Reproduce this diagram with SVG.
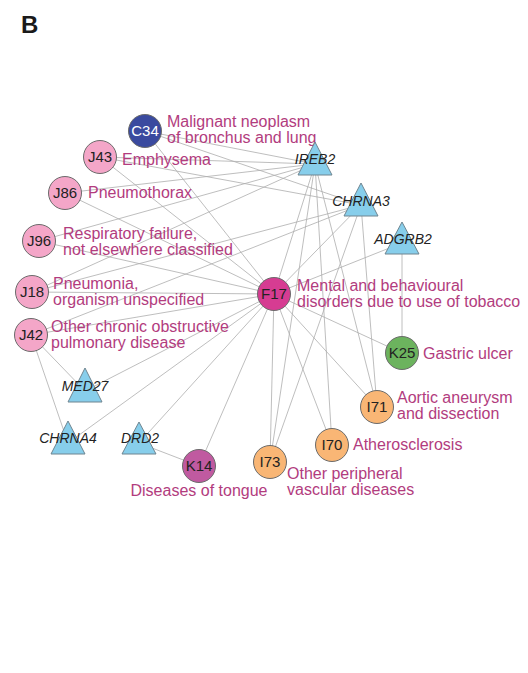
<svg xmlns="http://www.w3.org/2000/svg" width="528" height="673" viewBox="0 0 528 673">
  <style>
    .edge { stroke: #adadad; stroke-width: 0.8; fill: none; }
    .node { stroke: #6b6b6b; stroke-width: 1; }
    .gene { fill: #87ceeb; stroke: #6f8590; stroke-width: 1; }
    .code { font-family: "Liberation Sans", Arial, sans-serif; font-size: 15px; fill: #222; text-anchor: middle; }
    .gname { font-family: "Liberation Sans", Arial, sans-serif; font-size: 14px; font-style: italic; fill: #222; text-anchor: middle; }
    .lbl { font-family: "Liberation Sans", Arial, sans-serif; font-size: 16px; fill: #b23c7e; }
    .resp { fill: #f4a6c8; }
    .circ { fill: #f9b675; }
  </style>
  <rect width="528" height="673" fill="#ffffff"/>
  <text x="21" y="33" font-family="Liberation Sans, Arial, sans-serif" font-size="24" font-weight="bold" fill="#1a1a1a">B</text>

  <!-- connectors -->
  <g id="edges">
    <!-- F17 hub -->
    <line class="edge" x1="274" y1="294" x2="145" y2="131"/>
    <line class="edge" x1="274" y1="294" x2="100" y2="157"/>
    <line class="edge" x1="274" y1="294" x2="65" y2="193"/>
    <line class="edge" x1="274" y1="294" x2="39" y2="241"/>
    <line class="edge" x1="274" y1="294" x2="32" y2="292"/>
    <line class="edge" x1="274" y1="294" x2="31" y2="335"/>
    <line class="edge" x1="274" y1="294" x2="402" y2="353"/>
    <line class="edge" x1="274" y1="294" x2="377" y2="407"/>
    <line class="edge" x1="274" y1="294" x2="332" y2="445"/>
    <line class="edge" x1="274" y1="294" x2="270" y2="462"/>
    <line class="edge" x1="274" y1="294" x2="199" y2="466"/>
    <!-- IREB2 -->
    <line class="edge" x1="315" y1="164" x2="145" y2="131"/>
    <line class="edge" x1="315" y1="164" x2="100" y2="157"/>
    <line class="edge" x1="315" y1="164" x2="65" y2="193"/>
    <line class="edge" x1="315" y1="164" x2="39" y2="241"/>
    <line class="edge" x1="315" y1="164" x2="32" y2="292"/>
    <line class="edge" x1="315" y1="164" x2="274" y2="294"/>
    <line class="edge" x1="315" y1="164" x2="270" y2="462"/>
    <line class="edge" x1="315" y1="164" x2="332" y2="445"/>
    <line class="edge" x1="315" y1="164" x2="377" y2="407"/>
    <!-- CHRNA3 -->
    <line class="edge" x1="361" y1="205" x2="145" y2="131"/>
    <line class="edge" x1="361" y1="205" x2="100" y2="157"/>
    <line class="edge" x1="361" y1="205" x2="32" y2="292"/>
    <line class="edge" x1="361" y1="205" x2="31" y2="335"/>
    <line class="edge" x1="361" y1="205" x2="274" y2="294"/>
    <line class="edge" x1="361" y1="205" x2="270" y2="462"/>
    <line class="edge" x1="361" y1="205" x2="377" y2="407"/>
    <!-- ADGRB2 -->
    <line class="edge" x1="402" y1="243" x2="274" y2="294"/>
    <line class="edge" x1="402" y1="243" x2="402" y2="353"/>
    <!-- MED27 -->
    <line class="edge" x1="85" y1="391" x2="31" y2="335"/>
    <line class="edge" x1="85" y1="391" x2="274" y2="294"/>
    <!-- CHRNA4 -->
    <line class="edge" x1="68" y1="443" x2="31" y2="335"/>
    <line class="edge" x1="68" y1="443" x2="274" y2="294"/>
    <!-- DRD2 -->
    <line class="edge" x1="139" y1="443" x2="274" y2="294"/>
    <line class="edge" x1="139" y1="443" x2="199" y2="466"/>
  </g>

  <!-- disease nodes -->
  <g id="C34">
    <circle class="node" cx="145" cy="131" r="16.5" fill="#3a4a9f"/>
    <text class="code" x="145" y="136" style="fill:#ffffff">C34</text>
    <text class="lbl" x="167" y="127">Malignant neoplasm</text>
    <text class="lbl" x="167" y="143">of bronchus and lung</text>
  </g>
  <g id="J43">
    <circle class="node resp" cx="100" cy="157" r="16.5"/>
    <text class="code" x="100" y="162">J43</text>
    <text class="lbl" x="122" y="165">Emphysema</text>
  </g>
  <g id="J86">
    <circle class="node resp" cx="65" cy="193" r="16.5"/>
    <text class="code" x="65" y="198">J86</text>
    <text class="lbl" x="88" y="198">Pneumothorax</text>
  </g>
  <g id="J96">
    <circle class="node resp" cx="39" cy="241" r="16.5"/>
    <text class="code" x="39" y="246">J96</text>
    <text class="lbl" x="63" y="239">Respiratory failure,</text>
    <text class="lbl" x="63" y="255">not elsewhere classified</text>
  </g>
  <g id="J18">
    <circle class="node resp" cx="32" cy="292" r="16.5"/>
    <text class="code" x="32" y="297">J18</text>
    <text class="lbl" x="53" y="289">Pneumonia,</text>
    <text class="lbl" x="53" y="305">organism unspecified</text>
  </g>
  <g id="J42">
    <circle class="node resp" cx="31" cy="335" r="16.5"/>
    <text class="code" x="31" y="340">J42</text>
    <text class="lbl" x="51" y="332">Other chronic obstructive</text>
    <text class="lbl" x="51" y="348">pulmonary disease</text>
  </g>
  <g id="F17">
    <circle class="node" cx="274" cy="294" r="16.5" fill="#d63c92"/>
    <text class="code" x="274" y="299">F17</text>
    <text class="lbl" x="297" y="291">Mental and behavioural</text>
    <text class="lbl" x="297" y="307">disorders due to use of tobacco</text>
  </g>
  <g id="K25">
    <circle class="node" cx="402" cy="353" r="16.5" fill="#6cb35e"/>
    <text class="code" x="402" y="358">K25</text>
    <text class="lbl" x="423" y="359">Gastric ulcer</text>
  </g>
  <g id="I71">
    <circle class="node circ" cx="377" cy="407" r="16.5"/>
    <text class="code" x="377" y="412">I71</text>
    <text class="lbl" x="397" y="403">Aortic aneurysm</text>
    <text class="lbl" x="397" y="419">and dissection</text>
  </g>
  <g id="I70">
    <circle class="node circ" cx="332" cy="445" r="16.5"/>
    <text class="code" x="332" y="450">I70</text>
    <text class="lbl" x="353" y="450">Atherosclerosis</text>
  </g>
  <g id="I73">
    <circle class="node circ" cx="270" cy="462" r="16.5"/>
    <text class="code" x="270" y="467">I73</text>
    <text class="lbl" x="287" y="479">Other peripheral</text>
    <text class="lbl" x="287" y="495">vascular diseases</text>
  </g>
  <g id="K14">
    <circle class="node" cx="199" cy="466" r="16.5" fill="#c05aa0"/>
    <text class="code" x="199" y="471">K14</text>
    <text class="lbl" x="199" y="496" text-anchor="middle">Diseases of tongue</text>
  </g>

  <!-- gene nodes -->
  <g id="IREB2">
    <polygon class="gene" points="315,142 298,175 332,175"/>
    <text class="gname" x="315" y="164">IREB2</text>
  </g>
  <g id="CHRNA3">
    <polygon class="gene" points="361,183 344,216 378,216"/>
    <text class="gname" x="361" y="206">CHRNA3</text>
  </g>
  <g id="ADGRB2">
    <polygon class="gene" points="402,222 385,254 419,254"/>
    <text class="gname" x="403" y="244">ADGRB2</text>
  </g>
  <g id="MED27">
    <polygon class="gene" points="85,368 68,402 102,402"/>
    <text class="gname" x="85" y="391">MED27</text>
  </g>
  <g id="CHRNA4">
    <polygon class="gene" points="68,421 51,454 85,454"/>
    <text class="gname" x="68" y="443">CHRNA4</text>
  </g>
  <g id="DRD2">
    <polygon class="gene" points="139,422 122,454 156,454"/>
    <text class="gname" x="140" y="443">DRD2</text>
  </g>
</svg>
